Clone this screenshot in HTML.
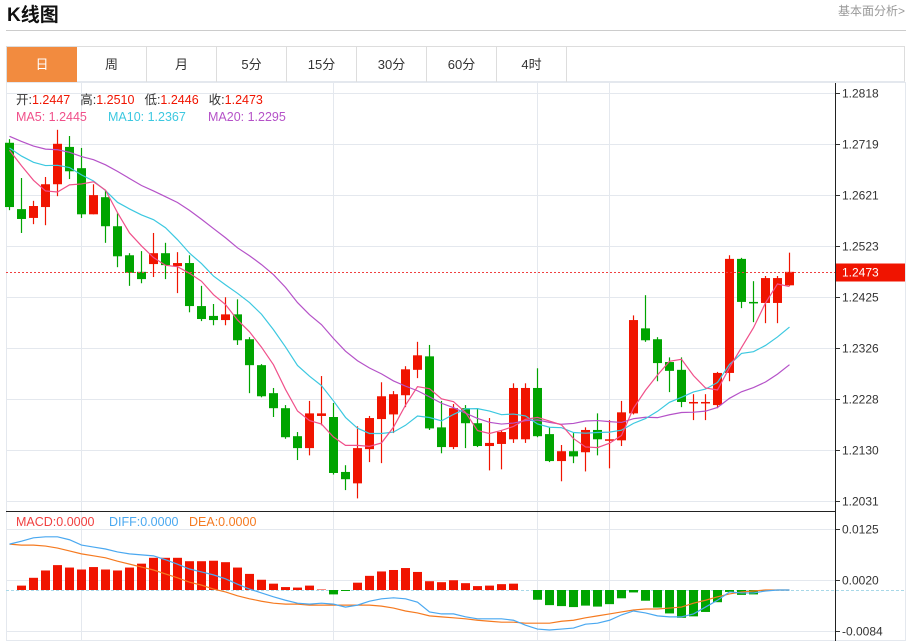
<!DOCTYPE html>
<html><head><meta charset="utf-8"><style>
body{margin:0;width:911px;height:641px;overflow:hidden;background:#fff;font-family:"Liberation Sans","Noto Sans CJK SC",sans-serif;}
#wrap{position:relative;width:911px;height:641px;}
.title{position:absolute;left:7px;top:0px;font-size:19px;font-weight:bold;color:#111;}
.more{position:absolute;right:6px;top:2px;font-size:12px;color:#999;}
.hr{position:absolute;left:6px;top:30px;width:900px;height:1px;background:#ccc;}
.tabs{position:absolute;left:6px;top:46px;width:899px;height:36px;border:1px solid #ddd;border-bottom:1px solid #e4e8ee;box-sizing:border-box;}
.tab{position:absolute;top:0;height:35px;width:70px;border-right:1px solid #ddd;text-align:center;line-height:35px;font-size:13px;color:#333;box-sizing:border-box;}
.tab.on{background:#f28b3f;color:#fff;border-right:none;}
svg{position:absolute;left:0;top:0;}
</style></head><body><div id="wrap">
<div class="title">K线图</div>
<div class="more">基本面分析&gt;</div>
<div class="hr"></div>
<div class="tabs">
<div class="tab on" style="left:0">日</div>
<div class="tab" style="left:70px">周</div>
<div class="tab" style="left:140px">月</div>
<div class="tab" style="left:210px">5分</div>
<div class="tab" style="left:280px">15分</div>
<div class="tab" style="left:350px">30分</div>
<div class="tab" style="left:420px">60分</div>
<div class="tab" style="left:490px">4时</div>
</div>
<svg id="c" width="911" height="641"></svg>
</div>
<script>
const opens=[1.2722,1.2594,1.2577,1.2598,1.2642,1.2714,1.2673,1.2584,1.2617,1.2561,1.2505,1.2473,1.2488,1.2509,1.2484,1.2490,1.2407,1.2388,1.2380,1.2391,1.2343,1.2293,1.2239,1.2210,1.2156,1.2133,1.2195,1.2193,1.2087,1.2065,1.2131,1.2189,1.2198,1.2235,1.2284,1.2310,1.2173,1.2135,1.2210,1.2181,1.2137,1.2141,1.2150,1.2150,1.2249,1.2160,1.2108,1.2127,1.2125,1.2168,1.2148,1.2148,1.2200,1.2364,1.2343,1.2299,1.2284,1.2220,1.2220,1.2216,1.2278,1.2498,1.2415,1.2413,1.2413,1.2447];
const highs=[1.2729,1.2654,1.2610,1.2656,1.2747,1.2735,1.2712,1.2642,1.2631,1.2586,1.2509,1.2513,1.2548,1.2529,1.2511,1.2505,1.2446,1.2411,1.2424,1.2420,1.2347,1.2295,1.2249,1.2216,1.2164,1.2224,1.2272,1.2220,1.2100,1.2175,1.2195,1.2260,1.2243,1.2291,1.2338,1.2332,1.2224,1.2218,1.2216,1.2210,1.2191,1.2168,1.2258,1.2258,1.2287,1.2173,1.2139,1.2162,1.2173,1.2200,1.2187,1.2224,1.2389,1.2428,1.2347,1.2308,1.2308,1.2237,1.2237,1.2280,1.2505,1.2500,1.2455,1.2465,1.2465,1.2510];
const lows=[1.2592,1.2548,1.2565,1.2563,1.2619,1.2652,1.2577,1.2584,1.2529,1.2482,1.2446,1.2451,1.2463,1.2459,1.2432,1.2395,1.2378,1.2370,1.2370,1.2332,1.2239,1.2231,1.2193,1.2151,1.2110,1.2119,1.2177,1.2082,1.2052,1.2036,1.2106,1.2104,1.2162,1.2212,1.2268,1.2168,1.2123,1.2131,1.2133,1.2135,1.2090,1.2092,1.2143,1.2143,1.2154,1.2106,1.2069,1.2104,1.2088,1.2119,1.2094,1.2137,1.2198,1.2338,1.2262,1.2241,1.2212,1.2187,1.2187,1.2210,1.2262,1.2403,1.2376,1.2374,1.2374,1.2446];
const closes=[1.2598,1.2575,1.2600,1.2642,1.2720,1.2667,1.2584,1.2621,1.2561,1.2503,1.2471,1.2459,1.2509,1.2486,1.2490,1.2407,1.2382,1.2380,1.2391,1.2341,1.2293,1.2233,1.2210,1.2154,1.2133,1.2200,1.2200,1.2085,1.2073,1.2133,1.2191,1.2233,1.2237,1.2285,1.2312,1.2171,1.2135,1.2210,1.2181,1.2137,1.2143,1.2164,1.2249,1.2249,1.2156,1.2108,1.2127,1.2117,1.2168,1.2150,1.2150,1.2202,1.2380,1.2341,1.2297,1.2282,1.2222,1.2222,1.2222,1.2278,1.2498,1.2415,1.2413,1.2461,1.2461,1.2473];
const historyCloses=[1.2770,1.2780,1.2760,1.2745,1.2765,1.2750,1.2740,1.2760,1.2755,1.2745,1.2730,1.2720,1.2705,1.2715,1.2710,1.2725,1.2740,1.2745,1.2730];
const priceTicks=[1.2818,1.2719,1.2621,1.2523,1.2425,1.2326,1.2228,1.2130,1.2031];
const macdHist=[0,0.0009,0.0025,0.0040,0.0051,0.0046,0.0042,0.0047,0.0042,0.0040,0.0046,0.0054,0.0066,0.0066,0.0066,0.0059,0.0059,0.0060,0.0057,0.0046,0.0033,0.0021,0.0013,0.0006,0.0005,0.0009,0.0001,-0.0009,-0.0002,0.0015,0.0029,0.0038,0.0041,0.0045,0.0037,0.0018,0.0016,0.0020,0.0014,0.0008,0.0009,0.0012,0.0013,0,-0.0020,-0.0031,-0.0033,-0.0035,-0.0032,-0.0034,-0.0029,-0.0017,-0.0005,-0.0022,-0.0036,-0.0048,-0.0057,-0.0054,-0.0045,-0.0025,-0.0004,-0.0010,-0.0009,-0.0002,0,0];
const diffVals=[0.0094,0.0100,0.0107,0.0109,0.0109,0.0103,0.0092,0.0088,0.0084,0.0078,0.0074,0.0072,0.0070,0.0062,0.0053,0.0043,0.0037,0.0031,0.0023,0.0012,0.0002,-0.0006,-0.0014,-0.0021,-0.0027,-0.0029,-0.0027,-0.0029,-0.0035,-0.0031,-0.0023,-0.0018,-0.0016,-0.0018,-0.0025,-0.0045,-0.0049,-0.0049,-0.0055,-0.0059,-0.0059,-0.0059,-0.0062,-0.0072,-0.0080,-0.0082,-0.0080,-0.0078,-0.0070,-0.0068,-0.0062,-0.0051,-0.0043,-0.0047,-0.0053,-0.0055,-0.0055,-0.0049,-0.0035,-0.0021,-0.0004,-0.0006,-0.0006,-0.0002,0,0];
const deaVals=[0.0094,0.0092,0.0092,0.0090,0.0086,0.0080,0.0074,0.0070,0.0066,0.0059,0.0053,0.0047,0.0041,0.0033,0.0025,0.0016,0.0010,0.0002,-0.0004,-0.0012,-0.0018,-0.0023,-0.0027,-0.0029,-0.0029,-0.0031,-0.0031,-0.0031,-0.0031,-0.0031,-0.0031,-0.0033,-0.0037,-0.0043,-0.0047,-0.0053,-0.0055,-0.0057,-0.0059,-0.0062,-0.0064,-0.0066,-0.0066,-0.0068,-0.0068,-0.0068,-0.0064,-0.0062,-0.0057,-0.0053,-0.0049,-0.0045,-0.0041,-0.0039,-0.0039,-0.0037,-0.0035,-0.0027,-0.0021,-0.0014,-0.0008,-0.0004,-0.0002,0,0,0];
const macdTicks=[0.0125,0.0020,-0.0084];
const lastPrice=1.2473;

const NS='http://www.w3.org/2000/svg';
const svg=document.getElementById('c');
function el(t,a,p){const e=document.createElementNS(NS,t);for(const k in a)e.setAttribute(k,a[k]);(p||svg).appendChild(e);return e;}
const L=6,R=835;
const py=v=>93+(1.2818-v)*5184;
const my=v=>590-v*4880;
const xi=i=>9.5+12*i;
const fr=el('rect',{x:6.5,y:82.5,width:899,height:558,fill:'none',stroke:'#e4e8ee'});


[81,333,537,609].forEach(x=>{const g=el('line',{x1:x+.5,y1:83,x2:x+.5,y2:641,stroke:'#e4e8ee'});

});
priceTicks.forEach(v=>{const y=Math.round(py(v))+.5;
const g=el('line',{x1:L,y1:y,x2:R,y2:y,stroke:'#e4e8ee'});


el('line',{x1:R,y1:y,x2:R+5,y2:y,stroke:'#333'});
const t=el('text',{x:842,y:y+4,'font-size':12,fill:'#333'});t.textContent=v.toFixed(4);

});
macdTicks.forEach(v=>{const y=Math.round(my(v))+.5;
const g=el('line',{x1:L,y1:y,x2:R,y2:y,stroke:'#e4e8ee'});


el('line',{x1:R,y1:y,x2:R+5,y2:y,stroke:'#333'});
const t=el('text',{x:842,y:y+4,'font-size':12,fill:'#333'});t.textContent=v.toFixed(4);

});
const ax=el('line',{x1:R+.5,y1:83,x2:R+.5,y2:641,stroke:'#222'});


const sep=el('line',{x1:L,y1:511.5,x2:R,y2:511.5,stroke:'#222'});


const z=el('line',{x1:L,y1:590.5,x2:905,y2:590.5,stroke:'#a8d8e8','stroke-dasharray':'3,2'});


const RED='#f01400',GREEN='#00a400';
closes.forEach((c,i)=>{const o=opens[i],up=c>=o,col=up?RED:GREEN,x=xi(i);
const g=el('g',{});


el('line',{x1:x,y1:py(highs[i]),x2:x,y2:py(lows[i]),stroke:col,'stroke-width':1.2},g);
const t=py(Math.max(o,c)),b=py(Math.min(o,c));
el('rect',{x:x-4.5,y:t,width:9,height:Math.max(1.5,b-t),fill:col},g);});
const all=historyCloses.concat(closes);
function ma(n){return closes.map((_,i)=>{const k=i+historyCloses.length;let s=0;for(let j=k-n+1;j<=k;j++)s+=all[j];return s/n;});}
function line(vals,f,col,name){const p=el('polyline',{points:vals.map((v,i)=>xi(i)+','+f(v)).join(' '),fill:'none',stroke:col,'stroke-width':1.2});

}
const ma5=ma(5),ma10=ma(10),ma20=ma(20);
line(ma20,py,'#b552c8','ma20-line');
line(ma10,py,'#3cc8e0','ma10-line');
line(ma5,py,'#f0508a','ma5-line');
const ly=Math.round(py(lastPrice))+.5;
const lp=el('line',{x1:L,y1:ly,x2:R,y2:ly,stroke:'#f04040','stroke-dasharray':'2,2'});


const lb=el('rect',{x:836,y:ly-9,width:69,height:18,fill:'#f01400'});


const lt=el('text',{x:842,y:ly+4,'font-size':12,fill:'#fff'});lt.textContent=lastPrice.toFixed(4);
macdHist.forEach((v,i)=>{if(v===0)return;const y0=590,y1=my(v);
const r=el('rect',{x:xi(i)-4.5,y:Math.min(y0,y1),width:9,height:Math.abs(y1-y0),fill:v>0?RED:GREEN});

});
line(deaVals,my,'#f57a20','dea-line');
line(diffVals,my,'#4aa8f0','diff-line');
function txt(x,y,parts,name){const t=el('text',{x:x,y:y,'font-size':12.5});


parts.forEach(p=>{const a={fill:p[1]};if(p[2])a.dx=p[2];const s=el('tspan',a,t);s.textContent=p[0];});}
txt(16,104,[['开:','#333'],['1.2447','#f01400'],['高:','#333',10],['1.2510','#f01400'],['低:','#333',10],['1.2446','#f01400'],['收:','#333',10],['1.2473','#f01400']],'ohlc-legend');
txt(16,121,[['MA5: 1.2445','#f0508a']],'ma5-legend');
txt(108,121,[['MA10: 1.2367','#3cc8e0']],'ma10-legend');
txt(208,121,[['MA20: 1.2295','#b552c8']],'ma20-legend');
txt(16,526,[['MACD:0.0000','#f04040']],'macd-legend');
txt(109,526,[['DIFF:0.0000','#4aa8f0']],'diff-legend');
txt(189,526,[['DEA:0.0000','#f57a20']],'dea-legend');
</script></body></html>
